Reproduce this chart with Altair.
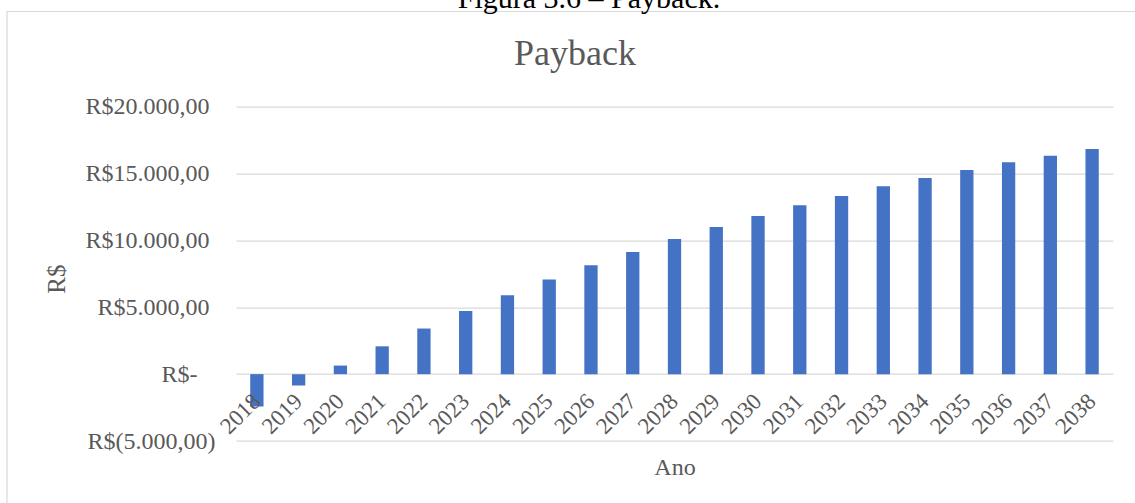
import altair as alt
import pandas as pd

anos = [str(a) for a in range(2018, 2039)]
valores = [-2420, -850, 640, 2080, 3410, 4730, 5900, 7070, 8150, 9140,
           10100, 11010, 11830, 12630, 13330, 14050, 14670, 15270, 15840,
           16340, 16840]
y_ticks = [-5000, 0, 5000, 10000, 15000, 20000]
caption = ["Figura 3.6 – Payback."]
titulo = ["Payback"]

FONT = "Liberation Serif"
GRAY = "#595959"

df = pd.DataFrame({"Ano": anos, "Valor": valores})

fmt = "replace(replace(replace(format({v}, ',.2f'), ',', '#'), '.', ','), '#', '.')"
label_expr = (
    "datum.value == 0 ? 'R$-' : (datum.value < 0 ? 'R$(' + "
    + fmt.format(v="-datum.value")
    + " + ')' : 'R$' + "
    + fmt.format(v="datum.value")
    + ")"
)

bars = alt.Chart(df).mark_bar(color="#4472C4", size=13.3).encode(
    x=alt.X(
        "Ano:N",
        sort=anos,
        scale=alt.Scale(paddingInner=0, paddingOuter=0),
        axis=alt.Axis(
            title="Ano",
            labelAngle=-45,
            labelAlign="right",
            labelBaseline="middle",
            labelPadding=23,
            labelFont=FONT,
            labelFontSize=23,
            labelColor=GRAY,
            titleFont=FONT,
            titleFontSize=24,
            titleFontWeight="normal",
            titleColor=GRAY,
            titleBaseline="alphabetic",
            titleY=100,
            offset=-66.7,
            domain=False,
            ticks=False,
            grid=False,
            zindex=1,
        ),
    ),
    y=alt.Y(
        "Valor:Q",
        scale=alt.Scale(domain=[-5000, 20000], nice=False, zero=False),
        axis=alt.Axis(
            title="R$",
            values=y_ticks,
            labelExpr=label_expr,
            labelFont=FONT,
            labelFontSize=24,
            labelColor=GRAY,
            labelPadding={
                "condition": [
                    {"test": "datum.value == 0", "value": 39},
                    {"test": "datum.value < 0", "value": 21},
                ],
                "value": 27,
            },
            titleFont=FONT,
            titleFontSize=25,
            titleFontWeight="normal",
            titleColor=GRAY,
            titleX=-180,
            titleY=172,
            titleBaseline="middle",
            titleAngle=-90,
            domain=False,
            ticks=False,
            grid=True,
            gridColor="#d9d9d9",
            gridWidth=1.3,
        ),
    ),
)

frame = alt.Chart(pd.DataFrame({"k": [1]})).mark_rect(
    fill=None, stroke="#d9d9d9", strokeWidth=1.2
).encode(
    x=alt.value(-229), x2=alt.value(930),
    y=alt.value(-95.2), y2=alt.value(430),
)

cap = alt.Chart(pd.DataFrame({"t": caption})).mark_text(
    font=FONT, fontSize=30, color="black", baseline="alphabetic", align="center"
).encode(
    text="t:N", x=alt.value(353), y=alt.value(-99.2)
)

title = alt.Chart(pd.DataFrame({"t": titulo})).mark_text(
    font=FONT, fontSize=36, color=GRAY, baseline="alphabetic", align="center"
).encode(
    text="t:N", x=alt.value(339), y=alt.value(-41.7)
)

chart = alt.layer(frame, bars, cap, title).properties(
    width=877,
    height=334.3,
    padding={"left": 236, "top": 106.7, "right": 22, "bottom": 62},
    autosize=alt.AutoSizeParams(type="none"),
).configure_view(stroke=None)

chart.save("out.html", embed_options={"renderer": "svg", "actions": False})
